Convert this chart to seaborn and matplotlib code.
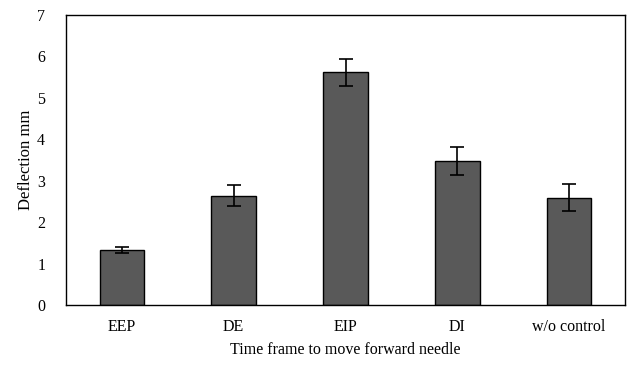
import matplotlib
matplotlib.use("Agg")
import matplotlib.pyplot as plt
import seaborn as sns
import pandas as pd

categories = ["EEP", "DE", "EIP", "DI", "w/o control"]
deflection = [1.32, 2.64, 5.62, 3.48, 2.59]
errors = [0.07, 0.26, 0.33, 0.34, 0.33]
yticks = [0, 1, 2, 3, 4, 5, 6, 7]

df = pd.DataFrame({"cat": categories, "val": deflection, "err": errors})

sns.set_theme(style="white")
plt.rcParams['font.family'] = ['Liberation Serif', 'DejaVu Serif']

fig = plt.figure(figsize=(6.27, 3.66), dpi=100)
ax = fig.add_axes([66/627, 1 - 305/366, (625 - 66)/627, (305 - 15)/366])

sns.barplot(data=df, x="cat", y="val", order=categories, color="#595959",
            saturation=1, width=0.4, edgecolor="black", linewidth=1.0,
            errorbar=None, ax=ax)
ax.errorbar(x=list(range(len(categories))), y=df["val"], yerr=df["err"],
            fmt="none", ecolor="black", elinewidth=1.2, capsize=5, capthick=1.2)

ax.set_xlim(-0.5, len(categories) - 0.5)
ax.set_ylim(0, 7)
ax.set_yticks(yticks)
ax.set_yticklabels([str(t) for t in yticks])
ax.tick_params(axis="both", length=0, labelsize=11.5, colors="black")
ax.tick_params(axis="y", pad=15)
ax.tick_params(axis="x", pad=10)
for s in ax.spines.values():
    s.set_visible(True)
    s.set_color("black")
    s.set_linewidth(1.0)
ax.set_xlabel("Time frame to move forward needle", fontsize=11.5, color="black", labelpad=5)
ax.set_ylabel("Deflection mm", fontsize=12, color="black", labelpad=2)

fig.savefig("out.png", dpi=100)
